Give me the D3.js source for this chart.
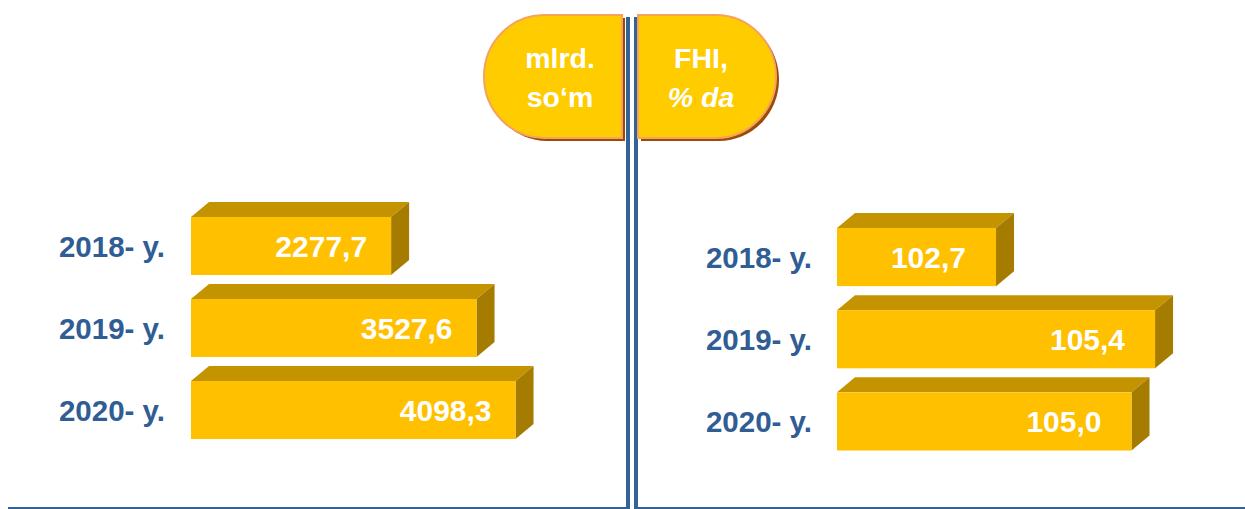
<!DOCTYPE html>
<html>
<head>
<meta charset="utf-8">
<script src="https://cdn.jsdelivr.net/npm/d3@7"></script>
<style>
  html, body { margin: 0; padding: 0; background: #ffffff; }
  svg { display: block; font-family: "Liberation Sans", Arial, sans-serif; }
</style>
</head>
<body>
<svg id="chart" width="1245" height="509"></svg>
<script>
// ---- data ----
const years = ["2018- y.", "2019- y.", "2020- y."];
const volumeValues = [2277.7, 3527.6, 4098.3];   // mlrd. so‘m
const indexValues = [102.7, 105.4, 105.0];       // FHI, % da
const volumeLabels = ["2277,7", "3527,6", "4098,3"];
const indexLabels = ["102,7", "105,4", "105,0"];
const leftBadgeLines = ["mlrd.", "so‘m"];
const rightBadgeLines = ["FHI,", "% da"];

// ---- style ----
const C = {
  front: "#FFC000", top: "#C49400", side: "#A67C00",
  label: "#2F5D94", line: "#336396",
  badge: "#FFCC00", badgeStroke: "#F5A35C", badgeShadow: "#9C4A08"
};
const depthX = 18, depthY = 15;

const svg = d3.select("#chart");

// ---- divider & baseline ----
svg.append("line").attr("x1", 628).attr("x2", 628).attr("y1", 17).attr("y2", 509)
  .attr("stroke", C.line).attr("stroke-width", 4);
svg.append("line").attr("x1", 636).attr("x2", 636).attr("y1", 17).attr("y2", 509)
  .attr("stroke", C.line).attr("stroke-width", 4);
svg.append("line").attr("x1", 8).attr("x2", 626).attr("y1", 508).attr("y2", 508)
  .attr("stroke", C.line).attr("stroke-width", 2);
svg.append("line").attr("x1", 638).attr("x2", 1245).attr("y1", 508).attr("y2", 508)
  .attr("stroke", C.line).attr("stroke-width", 2);

// ---- badges ----
function badge(x0, x1, y0, y1, roundLeft, lines, italicSecond) {
  const r = (y1 - y0) / 2, rx = 60;
  let p;
  if (roundLeft) {
    p = `M${x1},${y0} L${x0 + rx},${y0} A${rx},${r} 0 0 0 ${x0 + rx},${y1} L${x1},${y1} Z`;
  } else {
    p = `M${x0},${y0} L${x1 - rx},${y0} A${rx},${r} 0 0 1 ${x1 - rx},${y1} L${x0},${y1} Z`;
  }
  const g = svg.append("g");
  g.append("path").attr("d", p).attr("fill", C.badgeShadow).attr("transform", "translate(3,3)");
  g.append("path").attr("d", p).attr("fill", C.badge)
    .attr("stroke", C.badgeStroke).attr("stroke-width", 2);
  const cx = roundLeft ? x1 - 62 : x0 + 63;
  g.selectAll("text").data(lines).join("text")
    .attr("x", cx).attr("y", (d, i) => 68 + i * 39)
    .attr("text-anchor", "middle")
    .attr("fill", "#ffffff").attr("font-weight", "bold").attr("font-size", 28.5)
    .attr("font-style", (d, i) => (italicSecond && i === 1) ? "italic" : "normal")
    .text(d => d);
}
badge(484, 622, 15, 138, true, leftBadgeLines, false);
badge(638, 776, 15, 138, false, rightBadgeLines, true);

// ---- 3D bar panels ----
function panel(values, labels, xScale, yScale, labelRight, pad) {
  const g = svg.append("g");
  const x0 = xScale.range()[0];
  const bars = g.selectAll("g.bar").data(values).join("g").attr("class", "bar");
  bars.append("path") // top face
    .attr("d", (d, i) => {
      const y = yScale(years[i]), x = xScale(d);
      return `M${x0},${y} L${x0 + depthX},${y - depthY} L${x + depthX},${y - depthY} L${x},${y} Z`;
    }).attr("fill", C.top);
  bars.append("path") // side face
    .attr("d", (d, i) => {
      const y = yScale(years[i]), x = xScale(d), h = yScale.bandwidth();
      return `M${x},${y} L${x + depthX},${y - depthY} L${x + depthX},${y + h - depthY} L${x},${y + h} Z`;
    }).attr("fill", C.side);
  bars.append("rect") // front face
    .attr("x", x0).attr("y", (d, i) => yScale(years[i]))
    .attr("width", d => xScale(d) - x0).attr("height", yScale.bandwidth())
    .attr("fill", C.front);
  bars.append("text")
    .attr("x", d => xScale(d) - pad)
    .attr("y", (d, i) => yScale(years[i]) + yScale.bandwidth() / 2 + 11)
    .attr("text-anchor", "end").attr("fill", "#ffffff")
    .attr("font-weight", "bold").attr("font-size", 30)
    .text((d, i) => labels[i]);
  g.selectAll("text.cat").data(years).join("text").attr("class", "cat")
    .attr("x", labelRight)
    .attr("y", d => yScale(d) + yScale.bandwidth() / 2 + 11)
    .attr("text-anchor", "end").attr("fill", C.label)
    .attr("font-weight", "bold").attr("font-size", 29.5)
    .text(d => d);
}

const xLeft = d3.scaleLinear().domain([-650, 4500]).range([191, 543]);
const yLeft = d3.scaleBand().domain(years).range([217, 439]).paddingInner(24 / 82).paddingOuter(0);
panel(volumeValues, volumeLabels, xLeft, yLeft, 165, 24);

const xRight = d3.scaleLinear().domain([100, 106]).range([837, 1190.4]);
const yRight = d3.scaleBand().domain(years).range([228, 450.5]).paddingInner(24 / 82).paddingOuter(0);
panel(indexValues, indexLabels, xRight, yRight, 812, 30);
</script>
</body>
</html>
